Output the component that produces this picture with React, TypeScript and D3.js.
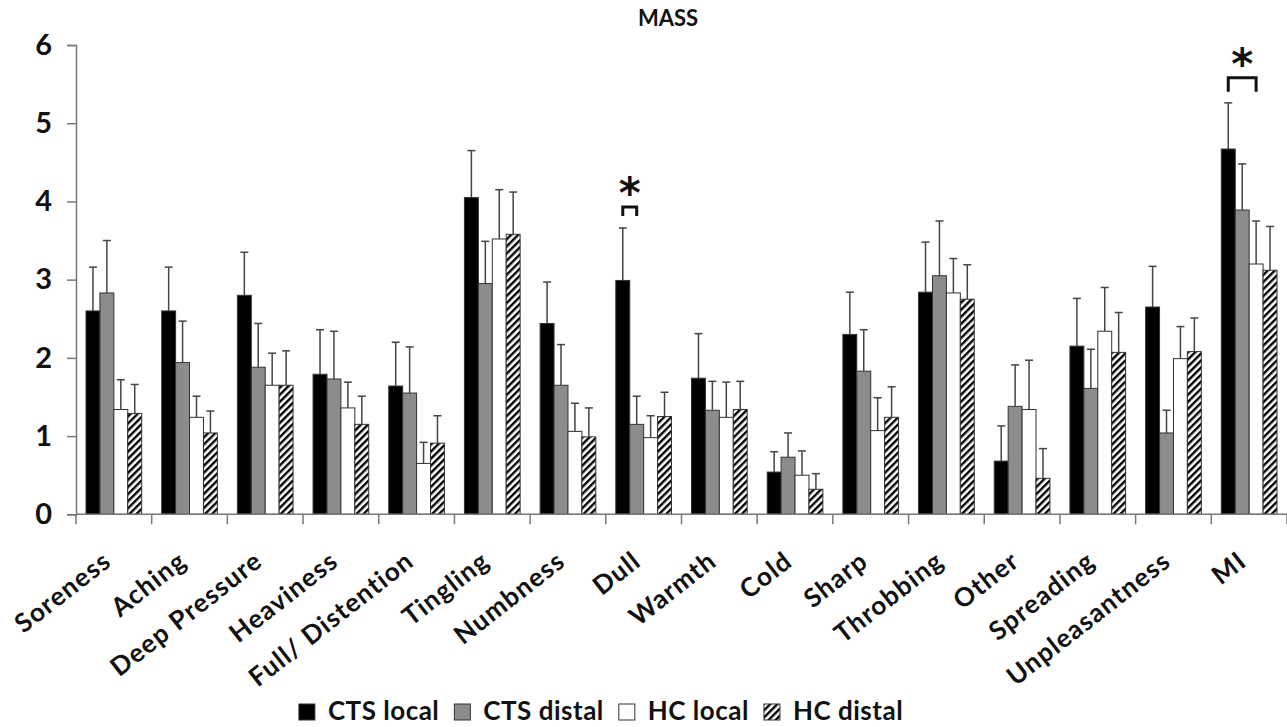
import React, { useEffect, useRef } from "react";
import * as d3 from "d3";

const categories = [
  "Soreness", "Aching", "Deep Pressure", "Heaviness", "Full/ Distention", "Tingling",
  "Numbness", "Dull", "Warmth", "Cold", "Sharp", "Throbbing", "Other", "Spreading",
  "Unpleasantness", "MI",
];
const seriesNames = ["CTS local", "CTS distal", "HC local", "HC distal"];

const ctsLocal = [2.6, 2.6, 2.8, 1.79, 1.64, 4.05, 2.44, 2.99, 1.74, 0.54, 2.3, 2.84, 0.68, 2.15, 2.65, 4.67];
const ctsLocalSem = [0.56, 0.56, 0.55, 0.57, 0.56, 0.6, 0.53, 0.67, 0.57, 0.26, 0.54, 0.64, 0.45, 0.61, 0.52, 0.59];
const ctsDistal = [2.83, 1.94, 1.88, 1.73, 1.55, 2.95, 1.65, 1.15, 1.33, 0.73, 1.83, 3.05, 1.38, 1.61, 1.04, 3.89];
const ctsDistalSem = [0.67, 0.53, 0.56, 0.61, 0.59, 0.54, 0.52, 0.36, 0.37, 0.31, 0.53, 0.7, 0.53, 0.5, 0.29, 0.59];
const hcLocal = [1.34, 1.24, 1.65, 1.36, 0.65, 3.52, 1.06, 0.98, 1.24, 0.5, 1.07, 2.83, 1.34, 2.34, 1.99, 3.2];
const hcLocalSem = [0.38, 0.27, 0.41, 0.33, 0.27, 0.63, 0.36, 0.28, 0.45, 0.31, 0.42, 0.44, 0.63, 0.56, 0.41, 0.55];
const hcDistal = [1.29, 1.04, 1.65, 1.15, 0.91, 3.58, 0.99, 1.25, 1.34, 0.32, 1.24, 2.75, 0.46, 2.07, 2.08, 3.12];
const hcDistalSem = [0.37, 0.28, 0.44, 0.36, 0.35, 0.54, 0.37, 0.31, 0.36, 0.2, 0.39, 0.44, 0.38, 0.51, 0.43, 0.56];

const yTicks = [0, 1, 2, 3, 4, 5, 6];

// significance brackets: category, from series, to series, bracket level
const significance = [
  { cat: "Dull", from: 0, to: 1, level: 3.93 },
  { cat: "MI", from: 0, to: 2, level: 5.58 },
];

const W = 1287;
const H = 727;
const FONT = "Lato, 'Open Sans', sans-serif";

const App = () => {
  const svgRef = useRef<SVGSVGElement>(null);

  useEffect(() => {
    const svg = d3.select(svgRef.current);
    svg.selectAll("*").remove();

    const values = [ctsLocal, ctsDistal, hcLocal, hcDistal];
    const sems = [ctsLocalSem, ctsDistalSem, hcLocalSem, hcDistalSem];
    const fills = ["#000000", "#8c8c8c", "#ffffff", "url(#hatch)"];

    // hatch pattern
    const defs = svg.append("defs");
    const pat = defs
      .append("pattern")
      .attr("id", "hatch")
      .attr("patternUnits", "userSpaceOnUse")
      .attr("width", 5)
      .attr("height", 5)
      .attr("patternTransform", "rotate(45)");
    pat.append("rect").attr("width", 5).attr("height", 5).attr("fill", "#fff");
    pat.append("rect").attr("width", 2.4).attr("height", 5).attr("fill", "#000");

    const x0 = d3.scaleBand().domain(categories).range([76, 1287]).padding(0);
    const bw = x0.bandwidth();
    const x1 = d3
      .scaleBand()
      .domain(seriesNames)
      .range([10, bw - 10])
      .padding(0);
    const y = d3.scaleLinear().domain([0, 6]).range([514.3, 45]);

    // title
    svg
      .append("text")
      .attr("x", 668)
      .attr("y", 26)
      .attr("text-anchor", "middle")
      .attr("font-family", FONT)
      .attr("font-weight", "bold")
      .attr("font-size", 22)
      .attr("fill", "#111")
      .text("MASS");

    // bars
    const groups = svg
      .selectAll("g.cat")
      .data(categories)
      .join("g")
      .attr("class", "cat")
      .attr("transform", (d) => `translate(${x0(d)},0)`);

    seriesNames.forEach((s, si) => {
      groups
        .append("rect")
        .attr("x", x1(s)!)
        .attr("width", x1.bandwidth())
        .attr("y", (d, i) => y(values[si][i]))
        .attr("height", (d, i) => y(0) - y(values[si][i]))
        .attr("fill", fills[si])
        .attr("stroke", "#333")
        .attr("stroke-width", 1);
    });

    // error bars (upper only)
    seriesNames.forEach((s, si) => {
      const cx = x1(s)! + x1.bandwidth() / 2;
      groups
        .append("line")
        .attr("x1", cx)
        .attr("x2", cx)
        .attr("y1", (d, i) => y(values[si][i]))
        .attr("y2", (d, i) => y(values[si][i] + sems[si][i]))
        .attr("stroke", "#444")
        .attr("stroke-width", 1.5);
      groups
        .append("line")
        .attr("x1", cx - 4)
        .attr("x2", cx + 4)
        .attr("y1", (d, i) => y(values[si][i] + sems[si][i]))
        .attr("y2", (d, i) => y(values[si][i] + sems[si][i]))
        .attr("stroke", "#444")
        .attr("stroke-width", 1.5);
    });

    // y axis
    const yAxis = d3
      .axisLeft(y)
      .tickValues(yTicks)
      .tickFormat(d3.format("d"))
      .tickSize(9)
      .tickPadding(15);
    const gy = svg.append("g").attr("transform", `translate(${76},0)`).call(yAxis);
    gy.select(".domain").attr("stroke", "#777").attr("stroke-width", 1.5);
    gy.selectAll(".tick line").attr("stroke", "#777").attr("stroke-width", 1.5);
    gy.selectAll(".tick text")
      .attr("font-family", FONT)
      .attr("font-weight", "bold")
      .attr("font-size", 29)
      .attr("fill", "#111");

    // x axis
    const gx = svg.append("g").attr("transform", `translate(0,${y(0)})`);
    gx.append("line")
      .attr("x1", 76)
      .attr("x2", 1287)
      .attr("stroke", "#777")
      .attr("stroke-width", 1.5);
    const bounds = categories.map((c) => x0(c)!).concat([x0(categories[15])! + bw]);
    gx.selectAll("line.tk")
      .data(bounds)
      .join("line")
      .attr("class", "tk")
      .attr("x1", (d) => d)
      .attr("x2", (d) => d)
      .attr("y1", 0)
      .attr("y2", 10)
      .attr("stroke", "#777")
      .attr("stroke-width", 1.5);
    gx.selectAll("text.lbl")
      .data(categories)
      .join("text")
      .attr("class", "lbl")
      .attr("text-anchor", "end")
      .attr("font-family", FONT)
      .attr("font-weight", "bold")
      .attr("font-size", 26)
      .attr("letter-spacing", 1.2)
      .attr("fill", "#111")
      .attr("transform", (d) => `translate(${x0(d)! + bw / 2 - 1},${50}) rotate(-38)`)
      .text((d) => d);

    // significance
    significance.forEach((sg) => {
      const xa = x0(sg.cat)! + x1(seriesNames[sg.from])! + x1.bandwidth() / 2;
      const xb = x0(sg.cat)! + x1(seriesNames[sg.to])! + x1.bandwidth() / 2;
      const yl = y(sg.level);
      const drop = xb - xa > 20 ? 14 : 9;
      svg
        .append("path")
        .attr("d", `M${xa},${yl + drop}V${yl}H${xb}V${yl + drop}`)
        .attr("fill", "none")
        .attr("stroke", "#111")
        .attr("stroke-width", 3);
      svg
        .append("text")
        .attr("x", (xa + xb) / 2)
        .attr("y", yl - 22)
        .attr("text-anchor", "middle")
        .attr("font-family", "'DejaVu Sans', sans-serif")
        .attr("font-weight", "bold")
        .attr("font-size", 42)
        .attr("dy", "0.55em")
        .attr("fill", "#111")
        .text("*");
    });

    // legend, centred under the plot
    const legendItems = seriesNames.map((s, i) => ({ s, fill: fills[i] }));
    const lg = svg.append("g");
    let lx = 0;
    legendItems.forEach((it) => {
      lg.append("rect")
        .attr("x", lx)
        .attr("y", 704)
        .attr("width", 16)
        .attr("height", 16)
        .attr("fill", it.fill)
        .attr("stroke", "#333")
        .attr("stroke-width", 1);
      const t = lg
        .append("text")
        .attr("x", lx + 29)
        .attr("y", 720)
        .attr("font-family", FONT)
        .attr("font-weight", "bold")
        .attr("font-size", 26)
        .attr("letter-spacing", 0.5)
        .attr("fill", "#111")
        .text(it.s);
      const tw = (t.node() as SVGTextElement).getComputedTextLength();
      lx += 29 + tw + 15;
    });
    const lw = lx - 15;
    lg.attr("transform", `translate(${601 - lw / 2},0)`);
  }, []);

  return (
    <div style={{ position: "absolute", left: 0, top: 0 }}>
      <svg ref={svgRef} width={W} height={H} style={{ display: "block", background: "#fff" }}></svg>
    </div>
  );
};

export default App;
